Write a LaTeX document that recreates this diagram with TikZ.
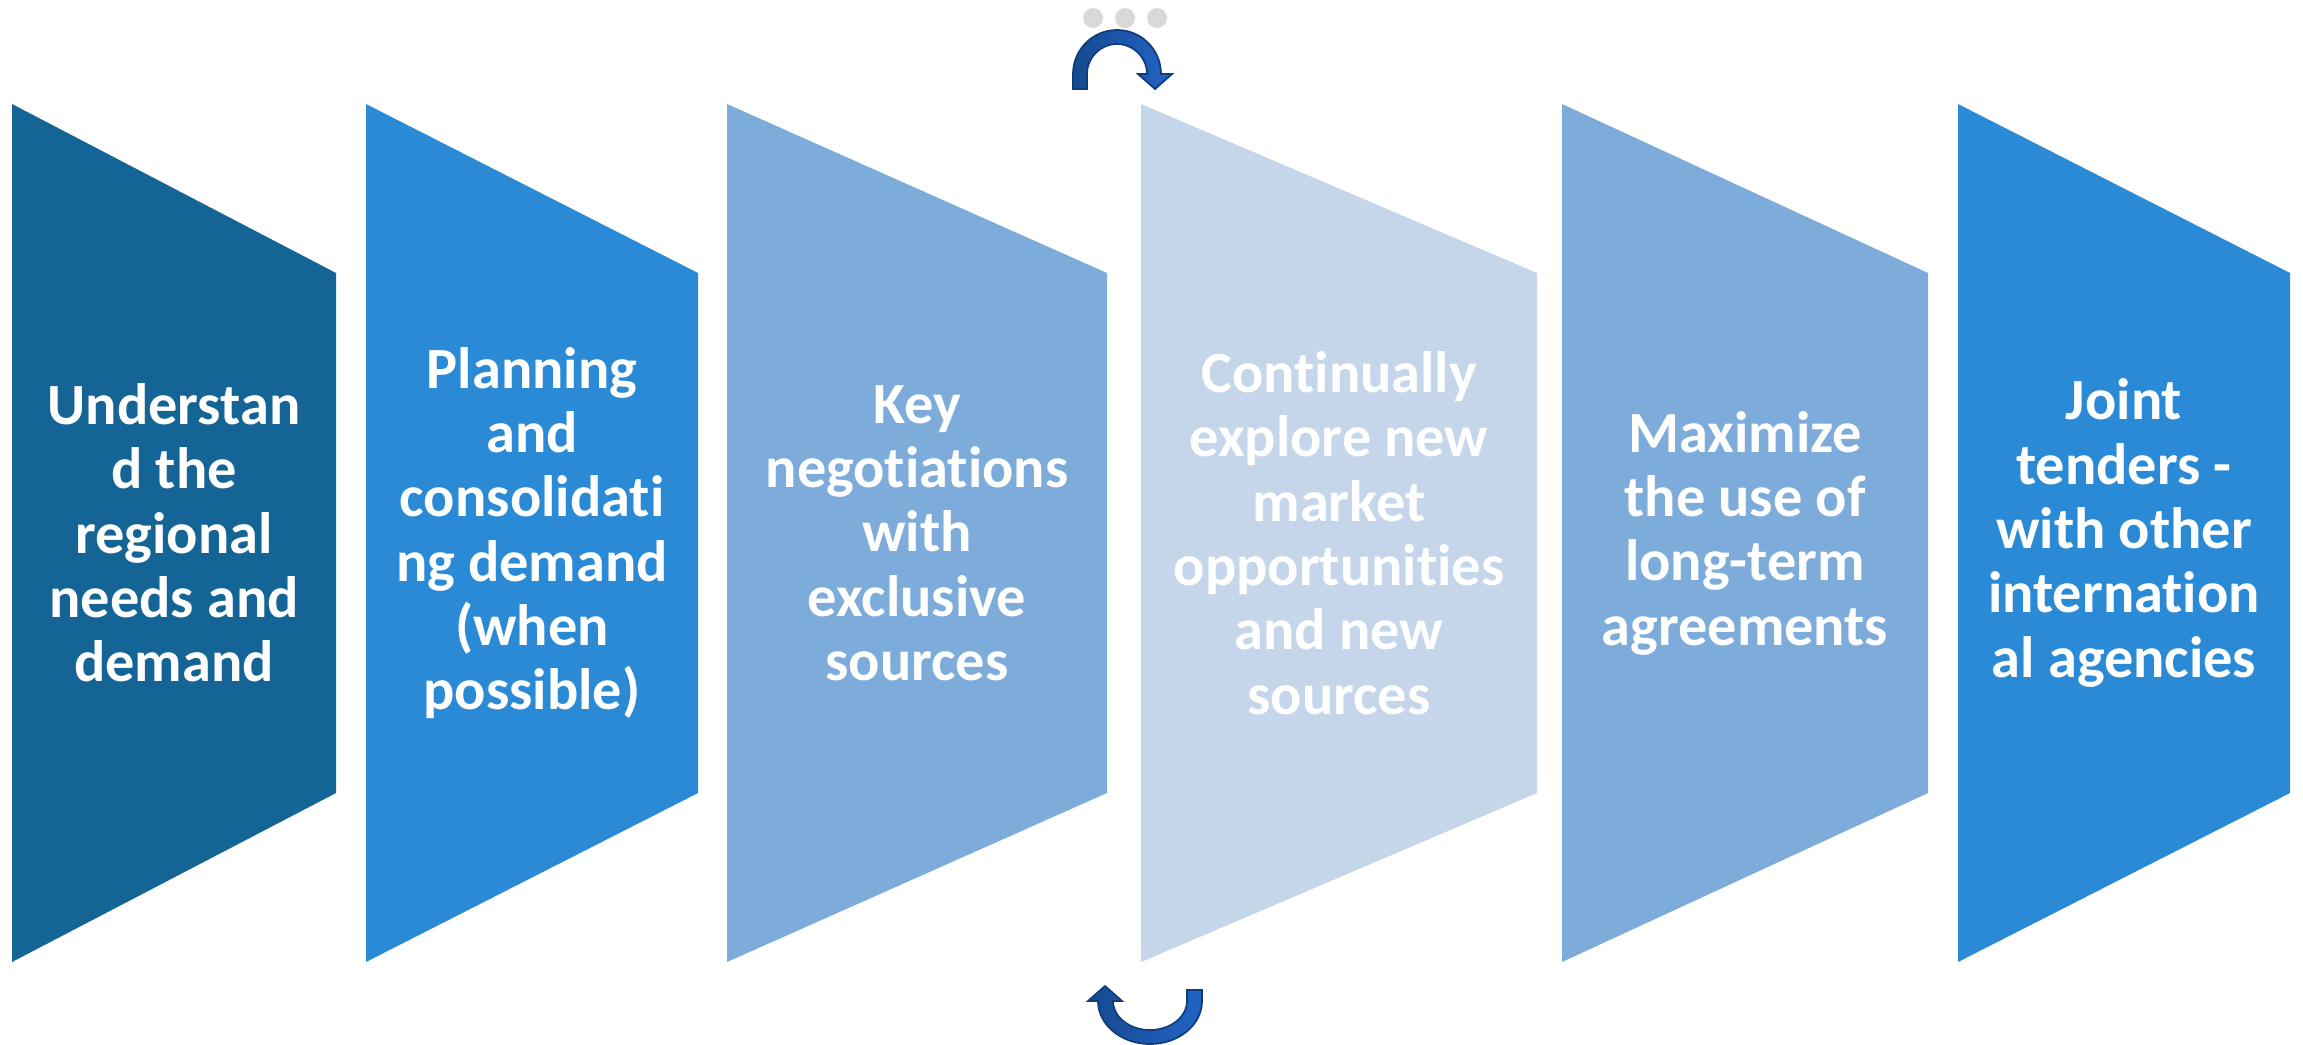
\documentclass[tikz,border=0pt]{standalone}
\usepackage{fontspec}
\setmainfont{Carlito}[Ligatures=NoCommon]
\usepackage{tikz}
\usetikzlibrary{positioning}

\definecolor{navy}{HTML}{146496}
\definecolor{bluemid}{HTML}{2A8AD6}
\definecolor{bluesoft}{HTML}{7DACDB}
\definecolor{bluepale}{HTML}{C5D6EA}
\definecolor{dotgrey}{HTML}{D9D9D9}
\definecolor{loopdark}{HTML}{164A90}
\definecolor{looplight}{HTML}{2263C4}
\definecolor{loopline}{HTML}{0F3D7C}

\tikzset{
  stagetext/.style={text=white, align=center, font=\fontsize{16.6}{18.3}\selectfont\bfseries},
  loopicon/.style={left color=loopdark, right color=looplight, draw=loopline, line width=0.5pt},
}

\begin{document}
\begin{tikzpicture}[x=0.01cm,y=-0.01cm]
\useasboundingbox (0,0) rectangle (2303,1044);
% the six stages
\foreach \l/\r/\c/\n in {12/336/navy/s1, 366/698/bluemid/s2, 727/1107/bluesoft/s3,
                         1141/1537/bluepale/s4, 1562/1928/bluesoft/s5, 1958/2290/bluemid/s6} {
\fill[\c] (\l,104) -- (\r,273) -- (\r,793) -- (\l,962) -- cycle;
\coordinate (\n) at ({(\l+\r)/2},533);
}
\node[stagetext] (t1) at (s1) {Understan\\d the\\regional\\needs and\\demand};
\node[stagetext] (t2) at (s2) {Planning\\and\\consolidati\\ng demand\\(when\\possible)};
\node[stagetext] (t3) at (s3) {Key\\negotiations\\with\\exclusive\\sources};
\node[stagetext] (t4) at (s4) {Continually\\explore new\\market\\opportunities\\and new\\sources};
\node[stagetext] (t5) at (s5) {Maximize\\the use of\\long-term\\agreements};
\node[stagetext] (t6) at (s6) {Joint\\tenders -\\with other\\internation\\al agencies};
% loop marks above and below
\foreach \x in {1093,1125,1157} {
\fill[dotgrey] (\x,18) circle[radius=10];
}
\draw[loopicon] (1073,89) -- (1073,74) arc[start angle=180,end angle=360,radius=44]
  -- (1172,74) -- (1155,89) -- (1138,74) -- (1147,74)
  arc[start angle=360,end angle=180,radius=30] -- (1087,89) -- cycle;
\draw[loopicon] (1202,990) -- (1202,1001) arc[start angle=0,end angle=180,x radius=52,y radius=43]
  -- (1088,1001) -- (1105,986) -- (1122,1001) -- (1113,1001)
  arc[start angle=180,end angle=0,x radius=37,y radius=29] -- (1187,990) -- cycle;
\end{tikzpicture}
\end{document}
